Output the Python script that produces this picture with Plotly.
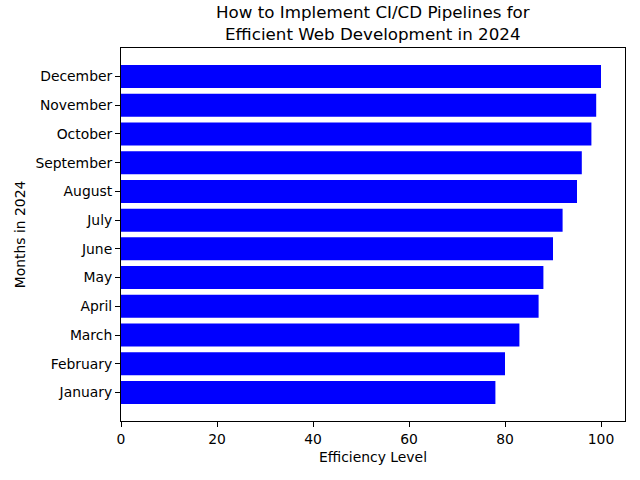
import plotly.graph_objects as go

months = ["January", "February", "March", "April", "May", "June", "July",
          "August", "September", "October", "November", "December"]
efficiency = [78, 80, 83, 87, 88, 90, 92, 95, 96, 98, 99, 100]

fig = go.Figure(go.Bar(
    x=efficiency, y=months, orientation="h",
    marker=dict(color="#0000ff", line=dict(width=0)),
    width=0.8,
))

font = "DejaVu Sans, sans-serif"
fig.update_layout(
    width=640, height=480,
    margin=dict(l=121, r=15, t=48, b=59, autoexpand=False),
    paper_bgcolor="white", plot_bgcolor="white",
    font=dict(family=font, size=13.9, color="black"),
    showlegend=False,
    bargap=0.2,
    annotations=[dict(
        text="How to Implement CI/CD Pipelines for<br>Efficient Web Development in 2024",
        xref="paper", yref="paper", x=0.5, y=1, xanchor="center", yanchor="bottom",
        yshift=2, showarrow=False, align="center",
        font=dict(family=font, size=16.7, color="black"),
    )],
)
fig.update_xaxes(
    range=[0, 105], tickvals=[0, 20, 40, 60, 80, 100], automargin=False,
    showgrid=False, zeroline=False,
    showline=True, linecolor="black", linewidth=1, mirror=True,
    ticks="outside", ticklen=5, tickcolor="black",
    title=dict(text="Efficiency Level", font=dict(size=13.9), standoff=6),
)
fig.update_yaxes(
    range=[-0.99, 11.99], categoryorder="array", categoryarray=months, automargin=False,
    showgrid=False, zeroline=False,
    showline=True, linecolor="black", linewidth=1, mirror=True,
    ticks="outside", ticklen=5, tickcolor="black",
    title=dict(text="Months in 2024", font=dict(size=13.9), standoff=6),
)

fig.write_html("out.html", config={"displayModeBar": False},
               post_script="document.body.style.margin='0';window.dispatchEvent(new Event('resize'));")
